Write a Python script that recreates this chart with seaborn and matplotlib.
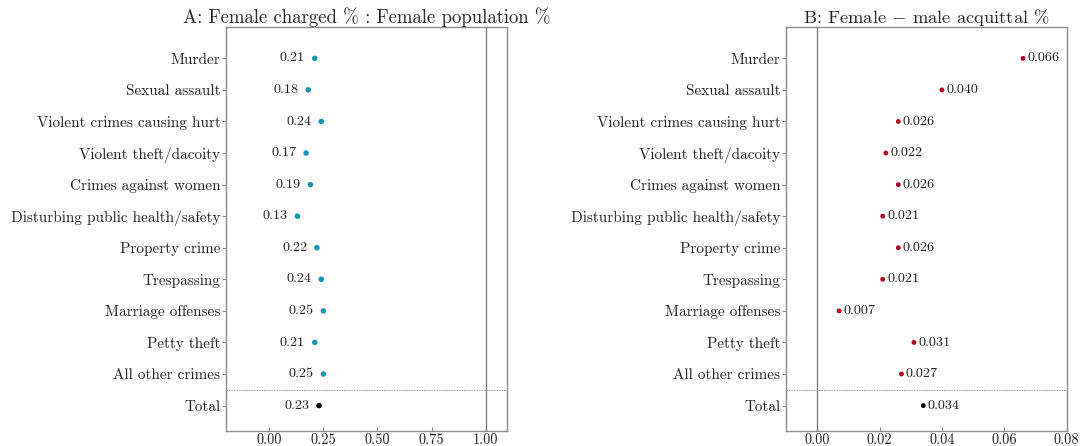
import matplotlib
matplotlib.use("Agg")
import matplotlib.pyplot as plt
import seaborn as sns
import pandas as pd

# Crime categories, top to bottom
categories = [
    "Murder",
    "Sexual assault",
    "Violent crimes causing hurt",
    "Violent theft/dacoity",
    "Crimes against women",
    "Disturbing public health/safety",
    "Property crime",
    "Trespassing",
    "Marriage offenses",
    "Petty theft",
    "All other crimes",
    "Total",
]

# Ratio of female share among the charged to female share of the population
charged_ratio = [0.21, 0.18, 0.24, 0.17, 0.19, 0.13, 0.22, 0.24, 0.25, 0.21, 0.25, 0.23]

# Female minus male acquittal rate
acquittal_gap = [0.066, 0.040, 0.026, 0.022, 0.026, 0.021, 0.026, 0.021, 0.007, 0.031, 0.027, 0.034]

sns.set_theme(style="white")
plt.rcParams["font.family"] = ["cmr10", "DejaVu Serif"]
plt.rcParams["mathtext.fontset"] = "cm"
plt.rcParams["axes.formatter.use_mathtext"] = True

df = pd.DataFrame({
    "category": categories,
    "ratio": charged_ratio,
    "gap": acquittal_gap,
    "group": ["crime"] * (len(categories) - 1) + ["total"],
})

fig = plt.figure(figsize=(10.8, 4.46), dpi=100)
ax_a = fig.add_axes([0.2093, 0.034, 0.2604, 0.906])
ax_b = fig.add_axes([0.7278, 0.034, 0.2599, 0.906])

spine_col = "#8c8c8c"


def style_axis(ax):
    for s in ax.spines.values():
        s.set_color(spine_col)
        s.set_linewidth(1.0)
    ax.set_ylim(len(categories) - 0.2, -1.0)
    ax.set_yticks(range(len(categories)))
    ax.set_yticklabels(categories, fontsize=10.95)
    ax.tick_params(axis="y", length=3, width=0.8, color=spine_col, pad=1, left=True,
                   labelcolor="#222222")
    ax.tick_params(axis="x", length=3, width=0.8, direction="in", color=spine_col,
                   labelsize=10.3, pad=2, labelcolor="#222222", bottom=True)
    ax.set_xlabel("")
    ax.set_ylabel("")
    ax.axhline(len(categories) - 1.5, color="#999999", lw=0.6, ls=(0, (2, 1)), zorder=1)


# Panel A
sns.scatterplot(data=df, x="ratio", y="category", hue="group",
                palette={"crime": "#1596b3", "total": "#000000"},
                s=16, linewidth=0, legend=False, ax=ax_a, zorder=3)
ax_a.set_xlim(-0.2, 1.1)
ax_a.set_xticks([0.0, 0.25, 0.5, 0.75, 1.0])
ax_a.set_xticklabels(["0.00", "0.25", "0.50", "0.75", "1.00"])
ax_a.axvline(1.0, color="#777777", lw=0.9, zorder=1)
style_axis(ax_a)
for i, v in enumerate(charged_ratio):
    ax_a.text(v - 0.045, i, f"{v:.2f}", ha="right", va="center", fontsize=10.2, color="#222222")
ax_a.set_title("A: Female charged % : Female population %", fontsize=13.5, pad=3)

# Panel B
sns.scatterplot(data=df, x="gap", y="category", hue="group",
                palette={"crime": "#b0001d", "total": "#000000"},
                s=12, linewidth=0, legend=False, ax=ax_b, zorder=3)
ax_b.set_xlim(-0.01, 0.08)
ax_b.set_xticks([0.0, 0.02, 0.04, 0.06, 0.08])
ax_b.set_xticklabels(["0.00", "0.02", "0.04", "0.06", "0.08"])
ax_b.axvline(0.0, color="#777777", lw=0.9, zorder=1)
style_axis(ax_b)
for i, v in enumerate(acquittal_gap):
    ax_b.text(v + 0.0014, i, f"{v:.3f}", ha="left", va="center", fontsize=10.2, color="#222222")
ax_b.set_title("B: Female $-$ male acquittal %", fontsize=13.3, pad=3)

fig.savefig("out.png", dpi=100)
